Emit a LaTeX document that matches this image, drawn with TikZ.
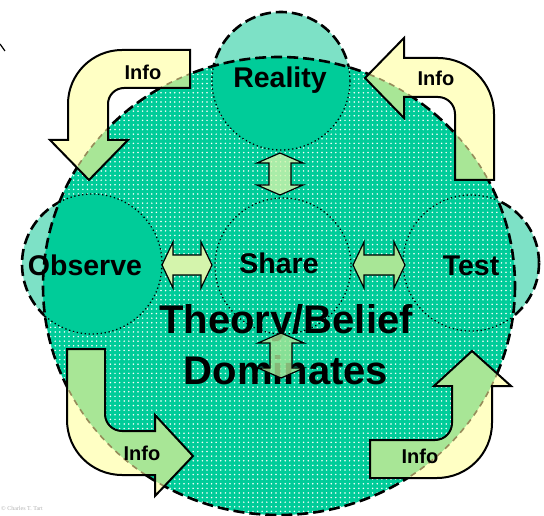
\documentclass[tikz,border=0pt]{standalone}
\usepackage{fontspec}
\setmainfont{Liberation Sans}
\newfontfamily\smallserif{Liberation Serif}
\usetikzlibrary{patterns.meta}
\definecolor{tealc}{RGB}{0,204,153}
\definecolor{lteal}{RGB}{125,225,198}
\definecolor{pyellow}{RGB}{255,255,196}
\definecolor{pgreen}{RGB}{168,230,150}
\definecolor{lgreen}{RGB}{212,244,172}
\definecolor{dashbrown}{RGB}{150,140,90}
\tikzset{
  outerdash/.style={line width=2.6pt, dash pattern=on 11pt off 5pt},
  dotline/.style={line width=1.3pt, dash pattern=on 1.3pt off 2.7pt},
  arrowline/.style={draw=black, line width=2pt, line join=miter},
  smallarrow/.style={draw=black, line width=1.2pt},
  bigtext/.style={font=\bfseries\fontsize{28.5}{30}\selectfont, anchor=base, inner sep=0pt},
  infotext/.style={font=\bfseries\fontsize{20}{22}\selectfont, anchor=base, inner sep=0pt},
  theorytext/.style={font=\bfseries\fontsize{40}{42}\selectfont, anchor=base, inner sep=0pt},
}
\newcommand{\harr}[4]{%
  \filldraw[smallarrow, fill=#4] (#1,#3) -- (#1+11,#3-23) -- (#1+11,#3-10) -- (#2-11,#3-10) -- (#2-11,#3-23) -- (#2,#3) -- (#2-11,#3+23) -- (#2-11,#3+10) -- (#1+11,#3+10) -- (#1+11,#3+23) -- cycle;}
\newcommand{\varr}[4]{%
  \filldraw[smallarrow, fill=#4, fill opacity=0.8] (#3,#1) -- (#3+23,#1+10) -- (#3+11,#1+10) -- (#3+11,#2-10) -- (#3+23,#2-10) -- (#3,#2) -- (#3-23,#2-10) -- (#3-11,#2-10) -- (#3-11,#1+10) -- (#3-23,#1+10) -- cycle;}
\newcommand{\infoarrow}[1]{%
  \fill[pyellow] #1;
  \begin{scope}
    \clip #1;
    \fill[pgreen] (279,286) ellipse [x radius=236, y radius=229];
    \draw[dashbrown, line width=1.6pt, dash pattern=on 6pt off 5pt] (279,286) ellipse [x radius=236, y radius=229];
  \end{scope}
  \draw[arrowline] #1;}
\begin{document}
\begin{tikzpicture}[x=1pt,y=-1pt]
\useasboundingbox (0,0) rectangle (544,516);
\def\bigC{(279,286) ellipse [x radius=236, y radius=229]}
% outer small circles
\filldraw[outerdash, fill=lteal] (281,81) circle [radius=69];
\filldraw[outerdash, fill=lteal] (92,264) circle [radius=70];
\filldraw[outerdash, fill=lteal] (471,263) circle [radius=68];
% big circle
\path[preaction={fill=tealc}, pattern={Dots[distance=4.6pt, radius=0.85pt]}, pattern color=white] \bigC;
\begin{scope}
  \clip \bigC;
  \fill[tealc] (281,81) circle [radius=69];
  \fill[tealc] (92,264) circle [radius=70];
  \draw[dotline] (281,81) circle [radius=69];
  \draw[dotline] (92,264) circle [radius=70];
  \draw[dotline] (471,263) circle [radius=68];
  \draw[dotline] (283,266) circle [radius=68];
\end{scope}
\draw[outerdash] \bigC;
% tiny mark
\draw[line width=1.2pt] (0,44) -- (5,51);
% Info arrows
\infoarrow{(190,50) -- (122,50) .. controls (92.2,50) and (68,74.2) .. (68,104) -- (68,140) -- (50,140) -- (89,180) -- (128,140) -- (108,140) -- (108,104) .. controls (108,95.2) and (115.2,88) .. (124,88) -- (190,88) -- cycle}
\infoarrow{(365,78) -- (404,38) -- (404,58) -- (438,58) .. controls (468.9,58) and (494,83.1) .. (494,114) -- (494,180) -- (455,180) -- (455,114) .. controls (455,104.6) and (447.4,97) .. (438,97) -- (404,97) -- (404,118) -- cycle}
\infoarrow{(67,349) -- (105,349) -- (105,414) .. controls (105,423.4) and (112.6,431) .. (122,431) -- (155,431) -- (155,415) -- (193,456) -- (155,496) -- (155,475) -- (122,475) .. controls (91.6,475) and (67,450.4) .. (67,420) -- cycle}
\infoarrow{(472,351) -- (511,386) -- (492,386) -- (492,423) .. controls (492,453.4) and (467.4,478) .. (437,478) -- (370,478) -- (370,440) -- (435,440) .. controls (444.4,440) and (452,432.4) .. (452,423) -- (452,386) -- (434,386) -- cycle}
% texts
\node[bigtext] (reality) at (280,88) {Reality};
\node[bigtext] (observe) at (85,275) {Observe};
\node[bigtext] (share) at (279,273) {Share};
\node[bigtext] (test) at (471,275) {Test};
\node[theorytext] (theory) at (286,333) {Theory/Belief};
\node[theorytext] (dominates) at (286,384) {Dominates};
\node[infotext] (info1) at (143,80) {Info};
\node[infotext] (info2) at (436,86) {Info};
\node[infotext] (info3) at (142,460) {Info};
\node[infotext] (info4) at (420,463) {Info};
\node[anchor=base west, inner sep=0pt, text=gray!60, font=\smallserif\fontsize{6}{6}\selectfont] (copy) at (1,510) {\textcopyright\ Charles T. Tart};
% small double arrows
\harr{162}{212}{265}{lgreen}
\harr{353}{405}{265}{pgreen}
\varr{153}{195}{280}{lgreen}
\varr{333}{378}{281}{pgreen}
\end{tikzpicture}
\end{document}
